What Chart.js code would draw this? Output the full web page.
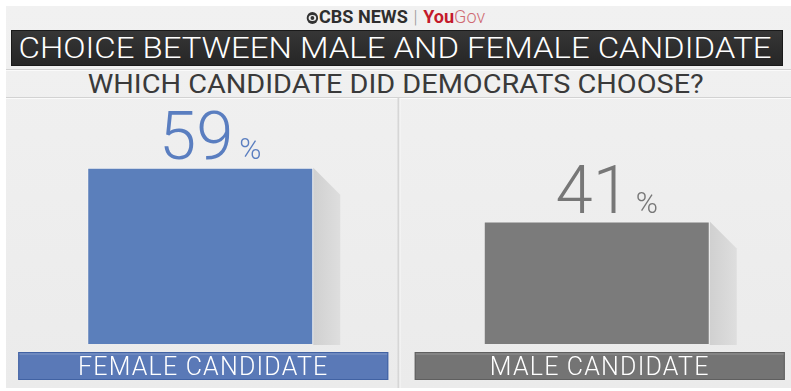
<!DOCTYPE html>
<html>
<head>
<meta charset="utf-8">
<script src="https://cdn.jsdelivr.net/npm/chart.js@4"></script>
<style>
  html, body { margin: 0; padding: 0; background: #fff; width: 791px; height: 391px; overflow: hidden; }
  #panel { position: absolute; left: 6px; top: 6px; width: 785px; height: 382px;
           background: linear-gradient(#f1f1f1, #ebebeb); }
  .line { position: absolute; left: 6px; width: 785px; height: 1px; background: #d2d2d2;
          box-shadow: 0 1px 0 #fafafa; }
  #logo { position: absolute; top: 6px; left: 0; width: 791px; text-align: center;
          font-family: Roboto, sans-serif; font-size: 19px; line-height: 22px; white-space: nowrap; }
  #logo .in { display: inline-block; transform: scaleX(0.95); transform-origin: center; }
  .eye { display: inline-block; width: 12px; height: 12px; border-radius: 50%; background: #333;
         position: relative; vertical-align: -1px; margin-right: 1px; }
  .eye::after { content: ''; position: absolute; left: 2px; top: 3px; width: 8px; height: 6px;
                border-radius: 50%; background: #f0f0f0; }
  .eye::before { content: ''; position: absolute; left: 4px; top: 4px; width: 4px; height: 4px;
                 border-radius: 50%; background: #333; z-index: 1; }
  .cbs { color: #2e2e2e; font-weight: 700; }
  .bar { color: #9a9a9a; font-weight: 300; margin: 0 6px; }
  .you { color: #c41a2b; font-weight: 700; }
  .gov { color: #cf6a72; font-weight: 300; }
  #titlebar { position: absolute; left: 11px; top: 30px; width: 772px; height: 36px;
              background: linear-gradient(#363636, #262626); border: 1px solid #1a1a1a; box-sizing: border-box; }
  .fit { position: absolute; left: 0; width: 791px; text-align: center; white-space: nowrap;
         font-family: Roboto, sans-serif; }
  .fit span { display: inline-block; transform-origin: center; }
  #title { top: 30px; height: 36px; line-height: 36px; font-size: 30px; font-weight: 300; color: #fff; }
  #subtitle { top: 70px; line-height: 28px; font-size: 26px; font-weight: 400; color: #3a3a3a; }
  #wrap { position: absolute; left: 2px; top: 0; width: 793px; height: 391px; }
</style>
</head>
<body>
<div id="panel"></div>
<div class="line" style="top:69px"></div>
<div class="line" style="top:97px"></div>
<div id="logo"><span class="in"><span class="eye"></span><span class="cbs">CBS NEWS</span><span class="bar">|</span><span class="you">You</span><span class="gov">Gov</span></span></div>
<div id="titlebar"></div>
<div class="fit" id="title"><span data-w="753">CHOICE BETWEEN MALE AND FEMALE CANDIDATE</span></div>
<div class="fit" id="subtitle"><span data-w="616">WHICH CANDIDATE DID DEMOCRATS CHOOSE?</span></div>
<div id="wrap"><canvas id="chart" width="793" height="391"></canvas></div>

<script>
// Umfragewerte
const categories = ['FEMALE CANDIDATE', 'MALE CANDIDATE'];
const shares = [59, 41];

const barColors = ['#5b7fbb', '#7b7b7b'];
const bandColors = ['#5a79b7', '#747474'];
const bandBorders = ['#4162a3', '#5f5f5f'];
const valueColors = ['#5a7ec0', '#777777'];

// Überschriften auf feste Breite bringen
document.querySelectorAll('.fit span').forEach(function (el) {
    const w = el.getBoundingClientRect().width;
    el.style.transform = 'scaleX(' + (Number(el.dataset.w) / w) + ')';
});

const decor = {
    id: 'decor',
    beforeDatasetsDraw(chart) {
        const ctx = chart.ctx;
        const area = chart.chartArea;
        const x = chart.scales.x;
        const bars = chart.getDatasetMeta(0).data;
        ctx.save();

        // Trennlinie zwischen den Kategorien
        const mid = (x.getPixelForValue(0) + x.getPixelForValue(1)) / 2;
        ctx.fillStyle = '#d6d6d6';
        ctx.fillRect(mid - 1, 98, 2, chart.height - 101);
        ctx.fillStyle = '#f7f7f7';
        ctx.fillRect(mid + 1, 98, 1, chart.height - 101);

        // Schatten rechts neben den Balken
        bars.forEach(function (b) {
            const r = b.x + b.width / 2;
            const d = 27;
            const g = ctx.createLinearGradient(r, 0, r + d, 0);
            g.addColorStop(0, '#d0d0d0');
            g.addColorStop(1, '#dedede');
            ctx.fillStyle = g;
            ctx.beginPath();
            ctx.moveTo(r, b.y);
            ctx.lineTo(r + d, b.y + d);
            ctx.lineTo(r + d, b.base + 1);
            ctx.lineTo(r, b.base + 1);
            ctx.closePath();
            ctx.fill();
        });

        // Beschriftungsbänder unter den Balken
        const top = area.bottom + 8;
        bars.forEach(function (b, i) {
            const cx = b.x + 3;
            const w = 370;
            ctx.fillStyle = bandColors[i];
            ctx.fillRect(cx - w / 2, top, w, 28);
            ctx.strokeStyle = bandBorders[i];
            ctx.lineWidth = 1;
            ctx.strokeRect(cx - w / 2 + 0.5, top + 0.5, w - 1, 27);
            ctx.fillStyle = 'rgba(255,255,255,0.12)';
            ctx.fillRect(cx - w / 2 + 1, top + 1, w - 2, 2);
        });
        ctx.restore();
    },
    afterDatasetsDraw(chart) {
        const ctx = chart.ctx;
        const area = chart.chartArea;
        const bars = chart.getDatasetMeta(0).data;
        ctx.save();
        bars.forEach(function (b, i) {
            // Prozentwert über dem Balken
            const num = String(shares[i]);
            ctx.font = '300 67px Roboto';
            const nw = ctx.measureText(num).width;
            ctx.font = '300 30px Roboto';
            const pw = ctx.measureText('%').width;
            const gap = 6;
            const start = b.x + 10 - (nw + gap + pw) / 2;
            const base = b.y - 9;
            ctx.fillStyle = valueColors[i];
            ctx.textBaseline = 'alphabetic';
            ctx.textAlign = 'left';
            ctx.font = '300 67px Roboto';
            ctx.fillText(num, start, base);
            ctx.font = '300 30px Roboto';
            ctx.fillText('%', start + nw + gap, base);

            // Kategoriename im Band
            ctx.font = '300 25px Roboto';
            ctx.letterSpacing = '1.2px';
            ctx.textAlign = 'center';
            ctx.fillStyle = '#ffffff';
            ctx.fillText(categories[i], b.x + 3, area.bottom + 31);
            ctx.letterSpacing = '0px';
        });
        ctx.restore();
    }
};

new Chart(document.getElementById('chart'), {
    type: 'bar',
    data: {
        labels: categories,
        datasets: [{
            data: shares,
            backgroundColor: barColors,
            borderColor: 'rgba(255,255,255,0.35)',
            borderWidth: 1,
            barPercentage: 0.57,
            categoryPercentage: 1
        }]
    },
    options: {
        responsive: false,
        animation: false,
        layout: { padding: { top: 105, bottom: 47, left: 0, right: 0 } },
        plugins: { legend: { display: false }, tooltip: { enabled: false } },
        scales: {
            x: { display: false },
            y: { display: false, min: 0, max: 80 }
        }
    },
    plugins: [decor]
});
</script>
</body>
</html>
